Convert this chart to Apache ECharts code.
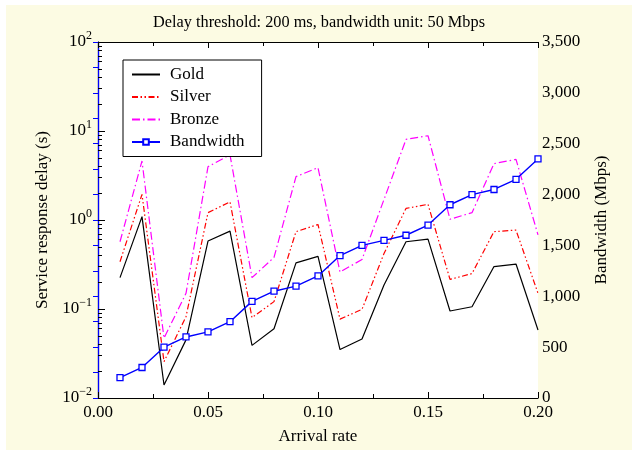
<!DOCTYPE html>
<html>
<head>
<meta charset="utf-8">
<script src="https://cdn.jsdelivr.net/npm/echarts@6/dist/echarts.min.js"></script>
<style>
html,body{margin:0;padding:0;background:#ffffff;width:632px;height:450px;overflow:hidden;}
#chart{position:absolute;left:6px;top:5px;width:626px;height:445px;background:#fcfbe3;}
</style>
</head>
<body>
<div id="chart"></div>
<script>
var rates = [0.01,0.02,0.03,0.04,0.05,0.06,0.07,0.08,0.09,0.10,0.11,0.12,0.13,0.14,0.15,0.16,0.17,0.18,0.19,0.20];
var gold = [0.225,1.09,0.014,0.045,0.58,0.75,0.039,0.06,0.33,0.39,0.035,0.046,0.186,0.57,0.61,0.095,0.106,0.30,0.32,0.058];
var silver = [0.34,1.94,0.0256,0.082,1.21,1.6,0.08,0.121,0.74,0.89,0.077,0.099,0.42,1.35,1.5,0.215,0.25,0.74,0.77,0.15];
var bronze = [0.57,4.6,0.047,0.15,3.97,5.4,0.225,0.38,3.07,3.87,0.26,0.36,1.7,8.05,8.85,1.02,1.21,4.3,4.8,0.68];
var bandwidth = [200,300,500,600,650,750,950,1050,1100,1200,1400,1500,1550,1600,1700,1900,2000,2050,2150,2350];
var decadeTicks = [0.01,0.1,1,10,100];
var minorLogTicks = [];
[0.01,0.1,1,10].forEach(function(d){ for (var k=2;k<=9;k++) minorLogTicks.push(+(d*k).toPrecision(6)); });

function pairs(ys){ return rates.map(function(x,i){ return [x, ys[i]]; }); }

var FONT = 'Liberation Serif';
var chart = echarts.init(document.getElementById('chart'), null, {renderer:'canvas'});
chart.setOption({
  animation:false,
  backgroundColor:'#fcfbe3',
  textStyle:{fontFamily:FONT},
  title:{
    text:'Delay threshold: 200 ms, bandwidth unit: 50 Mbps',
    left:'center', top:5,
    textStyle:{fontFamily:FONT,fontSize:16.3,fontWeight:'normal',color:'#000'}
  },
  legend:{
    orient:'vertical', left:117, top:55,
    backgroundColor:'#ffffff', borderColor:'#000', borderWidth:1,
    padding:[6,17,6,8], itemGap:5.5, itemWidth:28, itemHeight:7,
    textStyle:{fontFamily:FONT,fontSize:17,color:'#000',lineHeight:17,padding:[0,0,0,5]},
    data:[
      {name:'Gold', itemStyle:{opacity:0}},
      {name:'Silver', itemStyle:{opacity:0}},
      {name:'Bronze', itemStyle:{opacity:0}},
      {name:'Bandwidth'}
    ]
  },
  grid:{left:92, right:94, top:37, bottom:52, show:true, backgroundColor:'#ffffff', borderWidth:0},
  xAxis:[{
    type:'value', min:0, max:0.2, interval:0.05, position:'bottom',
    name:'Arrival rate', nameLocation:'middle', nameGap:30,
    nameTextStyle:{fontFamily:FONT,fontSize:17,color:'#000'},
    axisLine:{show:true,lineStyle:{color:'#000',width:1.2}},
    axisTick:{show:true,inside:true,length:6,lineStyle:{color:'#000'}},
    minorTick:{show:true,splitNumber:2,length:4,lineStyle:{color:'#000'}},
    axisLabel:{fontFamily:FONT,fontSize:17,color:'#000',margin:6,formatter:function(v){return v.toFixed(2);}},
    splitLine:{show:false}
  },{
    type:'value', min:0, max:0.2, interval:0.05, position:'top',
    axisLine:{show:true,lineStyle:{color:'#000',width:1.2}},
    axisTick:{show:true,inside:true,length:6,lineStyle:{color:'#000'}},
    minorTick:{show:true,splitNumber:2,length:4,lineStyle:{color:'#000'}},
    axisLabel:{show:false}, splitLine:{show:false}
  }],
  yAxis:[{
    type:'log', logBase:10, min:0.01, max:100, position:'left',
    name:'Service response delay (s)', nameLocation:'middle', nameGap:42,
    nameTextStyle:{fontFamily:FONT,fontSize:17,color:'#000'},
    axisLine:{show:true,lineStyle:{color:'#000',width:1.2}},
    axisTick:{show:true,inside:true,length:7,customValues:decadeTicks,lineStyle:{color:'#000'}},
    axisLabel:{
      customValues:decadeTicks, margin:6, color:'#000',
      formatter:function(v){
        var e = Math.round(Math.log10(v));
        return '{b|10}{s|' + (e<0 ? '\u2212'+(-e) : e) + '}';
      },
      rich:{
        b:{fontFamily:FONT,fontSize:17,color:'#000'},
        s:{fontFamily:FONT,fontSize:12,color:'#000',padding:[0,0,12,0]}
      }
    },
    splitLine:{show:false}
  },{
    type:'value', min:0, max:3500, interval:500, position:'right',
    name:'Bandwidth (Mbps)', nameLocation:'middle', nameGap:55,
    nameTextStyle:{fontFamily:FONT,fontSize:17,color:'#000'},
    axisLine:{show:true,lineStyle:{color:'#0000ff',width:1.2}},
    axisTick:{show:true,inside:true,length:5,lineStyle:{color:'#0000ff'}},
    minorTick:{show:true,splitNumber:2,length:5,lineStyle:{color:'#0000ff'}},
    axisLabel:{fontFamily:FONT,fontSize:17,color:'#000',margin:4,
      formatter:function(v){return v.toLocaleString('en-US');}},
    splitLine:{show:false}
  },{
    type:'log', logBase:10, min:0.01, max:100, position:'left',
    axisLine:{show:false},
    axisTick:{show:true,inside:true,length:4,customValues:minorLogTicks,lineStyle:{color:'#000'}},
    axisLabel:{show:false}, splitLine:{show:false}
  }],
  series:[{
    name:'Gold', type:'line', xAxisIndex:0, yAxisIndex:0, data:pairs(gold),
    symbol:'none', lineStyle:{color:'#000000',width:1.2}, itemStyle:{color:'#000000'}
  },{
    name:'Silver', type:'line', xAxisIndex:0, yAxisIndex:0, data:pairs(silver),
    symbol:'none', lineStyle:{color:'#ff0000',width:1.2,type:[6,2.5,1.5,2.5,1.5,2.5]}, itemStyle:{color:'#ff0000'}
  },{
    name:'Bronze', type:'line', xAxisIndex:0, yAxisIndex:0, data:pairs(bronze),
    symbol:'none', lineStyle:{color:'#ff00ff',width:1.2,type:[8,3,1.5,3]}, itemStyle:{color:'#ff00ff'}
  },{
    name:'Bandwidth', type:'line', xAxisIndex:0, yAxisIndex:1, data:pairs(bandwidth),
    symbol:'rect', symbolSize:6, lineStyle:{color:'#0000ff',width:1.4},
    itemStyle:{color:'#ffffff',borderColor:'#0000ff',borderWidth:1.3}
  }]
});
</script>
</body>
</html>
